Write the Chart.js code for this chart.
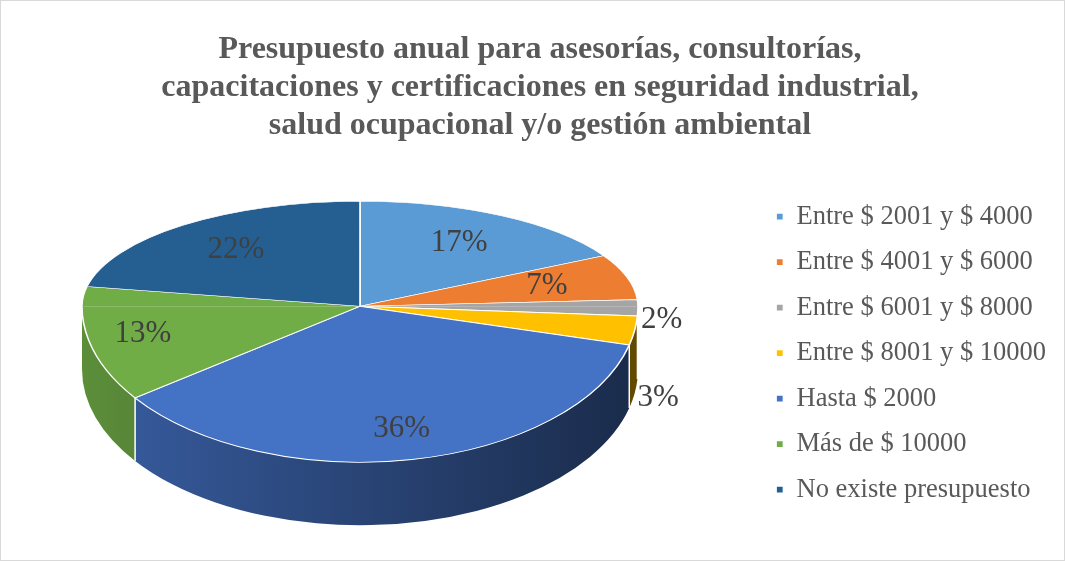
<!DOCTYPE html>
<html>
<head>
<meta charset="utf-8">
<script src="https://cdn.jsdelivr.net/npm/chart.js@4.4.1/dist/chart.umd.min.js"></script>
<style>
  body { margin: 0; background: #fff; }
  canvas { display: block; }
</style>
</head>
<body>
<canvas id="myChart" width="1065" height="561"></canvas>
<script>
// datos del grafico
var categorias = [
  'Entre $ 2001 y $ 4000',
  'Entre $ 4001 y $ 6000',
  'Entre $ 6001 y $ 8000',
  'Entre $ 8001 y $ 10000',
  'Hasta $ 2000',
  'Más de $ 10000',
  'No existe presupuesto'
]
var porcentajes = [17, 7, 2, 3, 36, 13, 22]
var colores = ['#5B9BD5', '#ED7D31', '#A5A5A5', '#FFC000', '#4472C4', '#70AD47', '#255E91']
var titulo = [
  'Presupuesto anual para asesorías, consultorías,',
  'capacitaciones y certificaciones en seguridad industrial,',
  'salud ocupacional y/o gestión ambiental'
]

// forma del pastel 3D (elipse con perspectiva), relativa al chartArea
var geo = { left: 58, top: 56, rx: 278, ryBack: 105, ryFront: 156, depth: 63 }
var fuente = "'Liberation Serif', 'Times New Roman', serif"

function sombra(hex, f) {
  var n = parseInt(hex.slice(1), 16)
  var r = Math.round(((n >> 16) & 255) * f)
  var g = Math.round(((n >> 8) & 255) * f)
  var b = Math.round((n & 255) * f)
  return 'rgb(' + r + ',' + g + ',' + b + ')'
}

function geometria(chart) {
  var a = chart.chartArea
  return {
    cx: a.left + geo.left + geo.rx,
    cy: a.top + geo.top + geo.ryBack,
    rx: geo.rx, ryB: geo.ryBack, ryF: geo.ryFront, d: geo.depth
  }
}

function punto(g, t, f) {
  var s = Math.sin(t)
  return { x: g.cx + g.rx * f * Math.cos(t), y: g.cy + (s < 0 ? g.ryB : g.ryF) * f * s }
}

var pastel3D = {
  id: 'pastel3D',
  beforeDatasetDraw: function(chart, args) {
    var ctx = chart.ctx
    var meta = args.meta
    var g = geometria(chart)
    var arcos = meta.data

    // lado frontal
    arcos.forEach(function(el, i) {
      var s = Math.max(el.startAngle, 0)
      var e = Math.min(el.endAngle, Math.PI)
      if (e <= s) return
      var grad = ctx.createLinearGradient(g.cx - g.rx, 0, g.cx + g.rx, 0)
      grad.addColorStop(0, sombra(colores[i], 0.82))
      grad.addColorStop(1, sombra(colores[i], 0.38))
      ctx.save()
      ctx.beginPath()
      ctx.ellipse(g.cx, g.cy, g.rx, g.ryF, 0, s, e)
      ctx.ellipse(g.cx, g.cy + g.d, g.rx, g.ryF, 0, e, s, true)
      ctx.closePath()
      ctx.fillStyle = grad
      ctx.fill()
      ctx.restore()
    })
    // separaciones blancas del lado
    arcos.forEach(function(el) {
      var t = el.endAngle
      if (t <= 0 || t >= Math.PI) return
      var p = punto(g, t, 1)
      ctx.save()
      ctx.strokeStyle = '#ffffff'
      ctx.lineWidth = 1.5
      ctx.beginPath()
      ctx.moveTo(p.x, p.y)
      ctx.lineTo(p.x, p.y + g.d)
      ctx.stroke()
      ctx.restore()
    })

    // cara superior: mitad trasera y mitad frontal con distinta escala
    var ref = arcos[0]
    var R = ref.outerRadius
    ;[['back', g.ryB], ['front', g.ryF]].forEach(function(mitad) {
      ctx.save()
      ctx.beginPath()
      if (mitad[0] === 'back') ctx.rect(0, 0, chart.width, g.cy)
      else ctx.rect(0, g.cy, chart.width, chart.height - g.cy)
      ctx.clip()
      ctx.translate(g.cx, g.cy)
      ctx.scale(g.rx / R, mitad[1] / R)
      ctx.translate(-ref.x, -ref.y)
      arcos.forEach(function(el) { el.draw(ctx) })
      ctx.restore()
    })
    return false
  },
  afterDatasetsDraw: function(chart) {
    var ctx = chart.ctx
    var meta = chart.getDatasetMeta(0)
    var g = geometria(chart)
    var prevY = -1000
    ctx.save()
    ctx.font = '31px ' + fuente
    ctx.fillStyle = '#404040'
    ctx.textBaseline = 'middle'
    meta.data.forEach(function(el, i) {
      var t = (el.startAngle + el.endAngle) / 2
      var txt = porcentajes[i] + '%'
      if (porcentajes[i] >= 5) {
        var p = punto(g, t, Math.sin(t) < 0 ? 0.7 : 0.8)
        ctx.textAlign = 'center'
        ctx.fillText(txt, p.x, p.y)
      } else {
        var q = punto(g, t, 1)
        var y = Math.max(q.y + 14, prevY + 78)
        prevY = y
        ctx.textAlign = 'left'
        ctx.fillText(txt, q.x + 3, y)
      }
    })
    ctx.restore()
  },
  afterDraw: function(chart) {
    var ctx = chart.ctx
    ctx.save()
    ctx.strokeStyle = '#d9d9d9'
    ctx.lineWidth = 1
    ctx.strokeRect(0.5, 0.5, chart.width - 1, chart.height - 1)
    ctx.restore()
  }
}

const ctx = document.getElementById('myChart')
new Chart(ctx, {
  type: 'pie',
  data: {
    labels: categorias,
    datasets: [{
      data: porcentajes,
      backgroundColor: colores,
      borderColor: '#ffffff',
      borderWidth: 1.2
    }]
  },
  options: {
    responsive: false,
    animation: false,
    devicePixelRatio: 1,
    events: [],
    layout: { padding: { left: 24, right: 9, top: 0, bottom: 0 } },
    plugins: {
      title: {
        display: true,
        text: titulo,
        color: '#595959',
        font: { family: fuente, size: 32, weight: 'bold', lineHeight: 1.19 },
        padding: { top: 31, bottom: 0 }
      },
      legend: {
        position: 'right',
        fullSize: false,
        labels: {
          color: '#595959',
          font: { family: fuente, size: 26.5 },
          boxWidth: 7,
          boxHeight: 7,
          padding: 19
        }
      },
      tooltip: { enabled: false }
    }
  },
  plugins: [pastel3D]
})
</script>
</body>
</html>
